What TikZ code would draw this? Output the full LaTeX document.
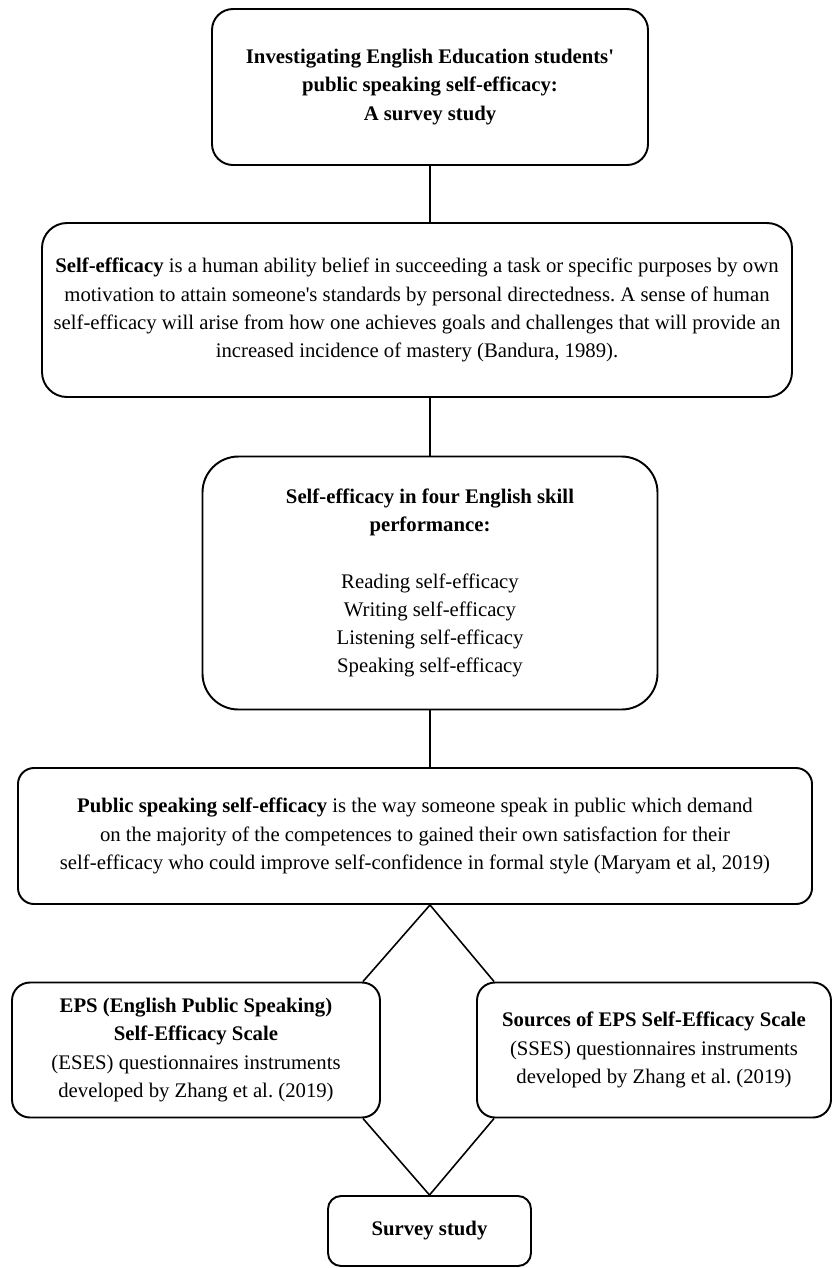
\documentclass[tikz,border=0pt]{standalone}
\usepackage{fontspec}
\setmainfont{Liberation Serif}
\usepackage{tikz}
\frenchspacing

\tikzset{
  flowbox/.style={draw, line width=1.1pt, align=center, inner sep=0pt,
    font=\fontsize{11.8}{16}\selectfont},
  connector/.style={line width=0.9pt}
}

\begin{document}
\begin{tikzpicture}
			%fix the page size
			\useasboundingbox (0,0) rectangle (16.64,-25.36);
			
			%draw the boxes
			\node[flowbox, rounded corners=0.42cm, minimum width=8.72cm, minimum height=3.12cm] (titlebox) at (8.6,-1.74)
			{\textbf{Investigating English Education students\textquotesingle}\\ \textbf{public speaking self-efficacy:}\\ \textbf{A survey study}};
			\node[flowbox, rounded corners=0.5cm, minimum width=15cm, minimum height=3.48cm] (defbox) at (8.34,-6.2)
			{\textbf{Self-efficacy} is a human ability belief in succeeding a task or specific purposes by own\\
			motivation to attain someone\textquotesingle s standards by personal directedness. A sense of human\\
			self-efficacy will arise from how one achieves goals and challenges that will provide an\\
			increased incidence of mastery (Bandura, 1989).};
			\node[flowbox, rounded corners=0.72cm, minimum width=9.1cm, minimum height=5.06cm] (skillbox) at (8.6,-11.66)
			{\textbf{Self-efficacy in four English skill}\\ \textbf{performance:}\\[16pt]
			Reading self-efficacy\\ Writing self-efficacy\\ Listening self-efficacy\\ Speaking self-efficacy};
			\node[flowbox, rounded corners=0.32cm, minimum width=15.88cm, minimum height=2.72cm] (publicbox) at (8.3,-16.72)
			{\textbf{Public speaking self-efficacy} is the way someone speak in public which demand\\
			on the majority of the competences to gained their own satisfaction for their\\
			self-efficacy who could improve self-confidence in formal style (Maryam et al, 2019)};
			\node[flowbox, rounded corners=0.36cm, minimum width=7.36cm, minimum height=2.7cm] (esesbox) at (3.92,-21)
			{\textbf{EPS (English Public Speaking)}\\ \textbf{Self-Efficacy Scale}\\
			(ESES) questionnaires instruments\\ developed by Zhang et al. (2019)};
			\node[flowbox, rounded corners=0.36cm, minimum width=7.08cm, minimum height=2.7cm] (ssesbox) at (13.08,-21)
			{\textbf{Sources of EPS Self-Efficacy Scale}\\
			(SSES) questionnaires instruments\\ developed by Zhang et al. (2019)};
			\node[flowbox, rounded corners=0.26cm, minimum width=4.06cm, minimum height=1.4cm] (surveybox) at (8.59,-24.62)
			{\textbf{Survey study}};
			
			%draw the vertical connectors
			\draw[connector] (titlebox.south) -- (titlebox.south |- defbox.north);
			\draw[connector] (titlebox.south |- defbox.south) -- (skillbox.north);
			\draw[connector] (skillbox.south) -- (skillbox.south |- publicbox.north);
			
			%draw the diamond connectors
			\coordinate (split) at (skillbox.south |- publicbox.south);
			\draw[connector] ([xshift=-0.36cm]esesbox.north east) -- (split) -- ([xshift=0.36cm]ssesbox.north west);
			\draw[connector] ([xshift=-0.36cm]esesbox.south east) -- (surveybox.north) -- ([xshift=0.36cm]ssesbox.south west);
		\end{tikzpicture}
\end{document}
